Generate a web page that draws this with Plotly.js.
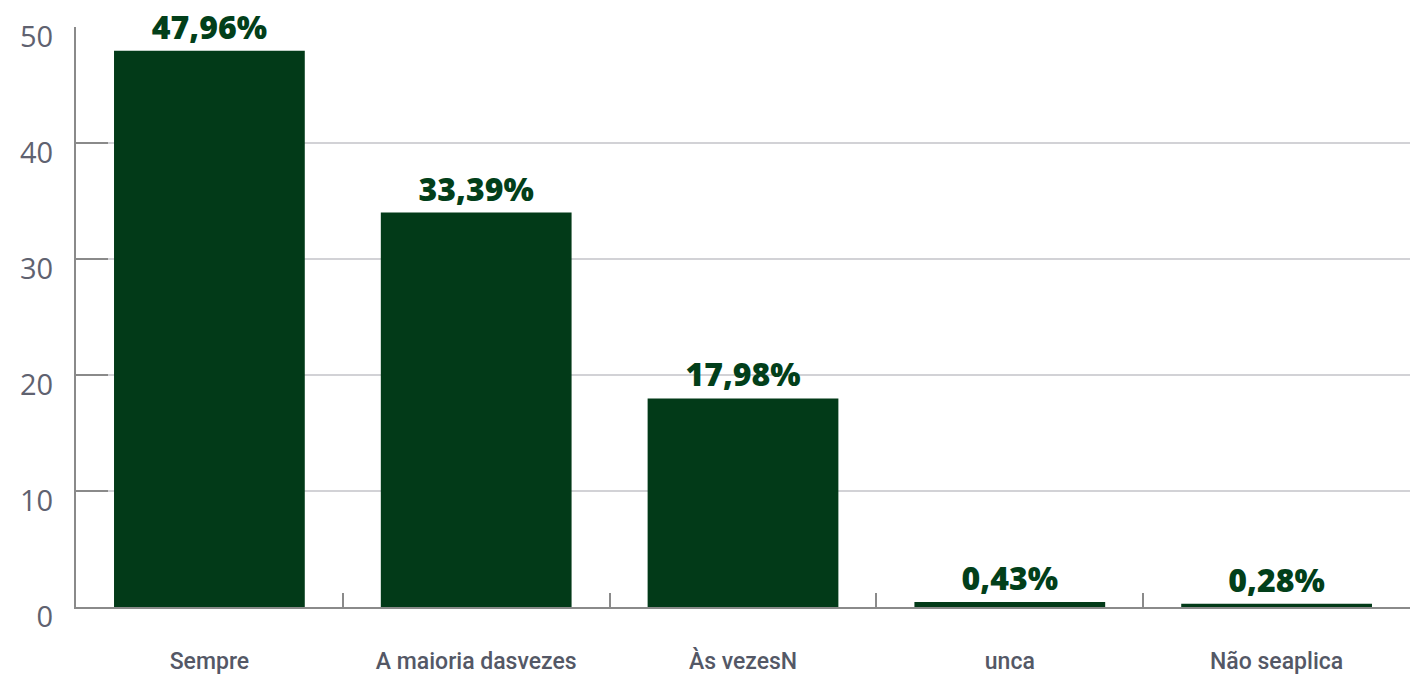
<!DOCTYPE html>
<html><head><meta charset="utf-8">
<script src="https://cdn.plot.ly/plotly-3.0.1.min.js"></script>
<style>html,body{margin:0;padding:0;background:#fff}#chart{width:1410px;height:675px}</style>
</head><body><div id="chart"></div>
<script>
const categories = ["Sempre", "A maioria dasvezes", "Às vezesN", "unca", "Não seaplica"];
const values = [47.96, 34.0, 17.98, 0.43, 0.28];
const labels = ["47,96%", "33,39%", "17,98%", "0,43%", "0,28%"];
const yTicks = [0, 10, 20, 30, 40, 50];

const trace = {
  type: 'bar', x: categories, y: values, text: labels,
  textposition: 'outside', cliponaxis: false,
  marker: {color: '#023a18'}, width: 0.715,
  textfont: {family: 'Open Sans, sans-serif', size: 32, color: '#023f1a', weight: 800},
  hoverinfo: 'none'
};
const layout = {
  width: 1410, height: 675,
  margin: {l: 76, r: 0, t: 27, b: 68},
  paper_bgcolor: '#fff', plot_bgcolor: '#fff',
  showlegend: false,
  xaxis: {
    type: 'category', range: [-0.5, 4.5],
    showline: true, linecolor: '#8a8a8a', linewidth: 2,
    ticks: 'inside', tickson: 'boundaries', ticklen: 14, tickwidth: 2, tickcolor: '#8a8a8a',
    tickfont: {family: 'Roboto, sans-serif', size: 23, color: '#545866', weight: 500},
    ticklabelstandoff: 32,
    showgrid: false, zeroline: false
  },
  yaxis: {
    range: [0, 50], tickvals: yTicks,
    showline: true, linecolor: '#8a8a8a', linewidth: 2,
    ticks: 'inside', ticklen: 32, tickwidth: 2, tickcolor: '#8a8a8a',
    showgrid: true, gridcolor: '#d2d2d6', gridwidth: 2,
    zeroline: false,
    tickfont: {family: 'Open Sans, sans-serif', size: 29, color: '#5f6270'},
    ticklabelstandoff: 15,
    ticklabelshift: 10
  },
  bargap: 0.285
};
Plotly.newPlot('chart', [trace], layout, {staticPlot: true});
</script></body></html>
